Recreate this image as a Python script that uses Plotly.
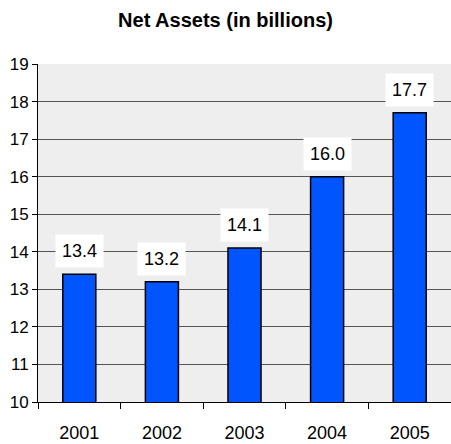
import plotly.graph_objects as go

years = ["2001", "2002", "2003", "2004", "2005"]
net_assets = [13.4, 13.2, 14.1, 16.0, 17.7]
labels = ["13.4", "13.2", "14.1", "16.0", "17.7"]

FONT = "Liberation Sans, Arial"
pos = list(range(len(years)))

fig = go.Figure()
fig.add_trace(go.Bar(
    x=pos, y=net_assets, width=0.4,
    marker=dict(color="#0055ff", line=dict(color="#000000", width=1.5)),
    hoverinfo="skip",
))

for x, y, t in zip(pos, net_assets, labels):
    fig.add_annotation(x=x, y=y, xref="x", yref="y", text=t, showarrow=False,
                       yanchor="bottom", yshift=6, bgcolor="white", borderpad=6,
                       font=dict(family=FONT, size=18, color="black"))

fig.update_layout(
    width=451, height=444,
    margin=dict(l=38, r=0, t=64, b=42),
    paper_bgcolor="white", plot_bgcolor="#eeeeee",
    showlegend=False,
    title=dict(text="<b>Net Assets (in billions)</b>", x=0.5, xref="container",
               y=0.955, yref="container", yanchor="middle",
               font=dict(family=FONT, size=20, color="black")),
    font=dict(family=FONT, size=17, color="black"),
)
fig.update_xaxes(type="linear", range=[-0.5, len(years) - 0.5],
                 tickmode="array", tickvals=pos, ticktext=years,
                 showline=True, linecolor="black", linewidth=1,
                 ticks="", showgrid=False, tickfont=dict(size=18),
                 ticklabelstandoff=14,
                 minor=dict(tickmode="linear", tick0=0.5, dtick=1, ticks="outside",
                            ticklen=6, tickcolor="black", showgrid=False))
fig.update_yaxes(range=[10, 19], dtick=1, showline=True, linecolor="black", linewidth=1,
                 ticks="outside", ticklen=5, tickcolor="black",
                 showgrid=True, gridcolor="#555555", gridwidth=1, zeroline=False,
                 tickfont=dict(size=17))

fig.write_html("out.html")
